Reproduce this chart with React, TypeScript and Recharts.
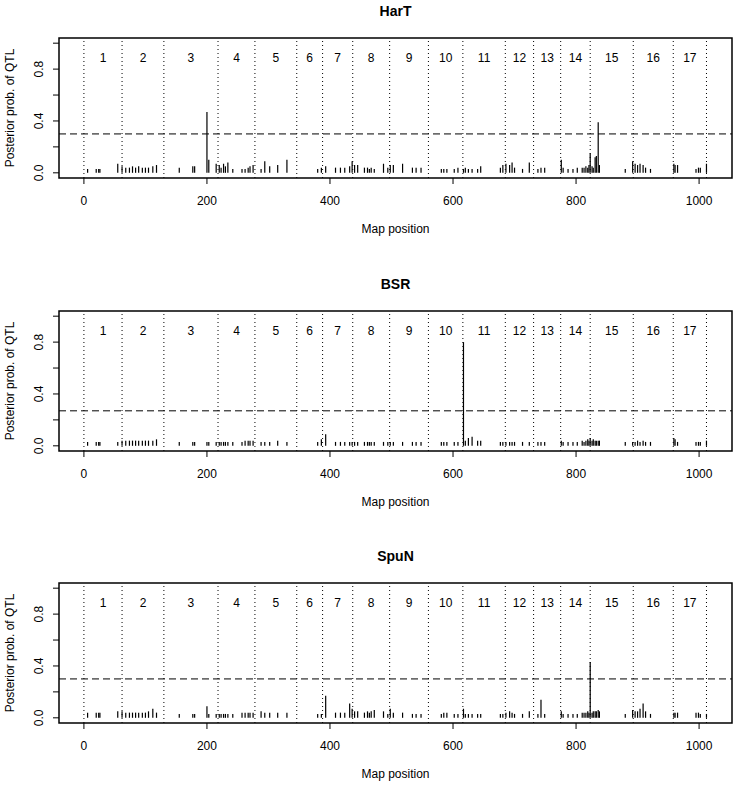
import React from "react";
import {
  ComposedChart,
  XAxis,
  YAxis,
  ReferenceLine,
  ReferenceArea,
  Scatter,
} from "recharts";

const FONT = "'Liberation Sans', Arial, Helvetica, sans-serif";

// chromosome boundaries on the map (cM) and their names
const chromBounds = [0, 62, 130, 218, 278, 346, 388, 437, 497, 560, 616, 685, 731, 775, 823, 893, 958, 1012];
const chromNames = ["1", "2", "3", "4", "5", "6", "7", "8", "9", "10", "11", "12", "13", "14", "15", "16", "17"];

// grid positions with a posterior value
const markerPos = [
  6, 20, 24, 26,
  55, 62, 68, 74, 79, 84, 89, 95, 100, 105, 112, 118,
  155, 177, 180, 200, 203,
  215, 220, 223, 227, 230, 234, 242, 257, 262, 267, 270, 275,
  288, 294, 302, 315, 330,
  380, 386,
  393, 409, 417, 424, 432, 436,
  440, 445, 456, 461, 464, 467, 472, 487, 494,
  498, 503, 518, 534, 540, 548,
  581, 585, 590, 602, 608,
  617, 620, 625, 631, 640, 645,
  677, 681, 686, 692, 696, 700, 713, 724,
  738, 743, 749,
  776, 779, 787, 795, 802, 810, 813, 816, 819, 821, 823, 826, 828, 831, 833, 836, 838,
  880, 892, 896, 900, 904, 909, 913, 921,
  959, 961, 965,
  995, 999, 1002, 1012,
];

const hartProb = [
  0.03, 0.03, 0.03, 0.03,
  0.07, 0.05, 0.04, 0.04, 0.05, 0.04, 0.05, 0.04, 0.04, 0.04, 0.05, 0.06,
  0.04, 0.05, 0.05, 0.47, 0.1,
  0.07, 0.06, 0.04, 0.07, 0.05, 0.08, 0.03, 0.03, 0.03, 0.04, 0.05, 0.06,
  0.03, 0.09, 0.05, 0.06, 0.1,
  0.03, 0.04,
  0.05, 0.04, 0.04, 0.04, 0.05, 0.09,
  0.06, 0.06, 0.04, 0.04, 0.03, 0.04, 0.03, 0.07, 0.04,
  0.06, 0.06, 0.07, 0.04, 0.04, 0.04,
  0.03, 0.03, 0.03, 0.03, 0.04,
  0.03, 0.04, 0.03, 0.03, 0.03, 0.05,
  0.04, 0.06, 0.07, 0.06, 0.08, 0.04, 0.03, 0.08,
  0.03, 0.04, 0.04,
  0.1, 0.04, 0.03, 0.03, 0.04, 0.04, 0.04, 0.05, 0.04, 0.06, 0.15, 0.05, 0.04, 0.12, 0.13, 0.39, 0.06,
  0.03, 0.09, 0.07, 0.06, 0.07, 0.06, 0.04, 0.03,
  0.07, 0.06, 0.06,
  0.03, 0.04, 0.04, 0.07,
];

const bsrProb = [
  0.03, 0.03, 0.03, 0.03,
  0.03, 0.04, 0.04, 0.04, 0.04, 0.04, 0.04, 0.04, 0.04, 0.04, 0.04, 0.05,
  0.03, 0.03, 0.03, 0.03, 0.03,
  0.03, 0.03, 0.03, 0.03, 0.03, 0.03, 0.03, 0.03, 0.04, 0.04, 0.04, 0.04,
  0.03, 0.03, 0.03, 0.04, 0.03,
  0.03, 0.05,
  0.09, 0.03, 0.03, 0.03, 0.03, 0.03,
  0.03, 0.03, 0.03, 0.03, 0.03, 0.03, 0.03, 0.03, 0.03,
  0.03, 0.03, 0.03, 0.03, 0.03, 0.03,
  0.03, 0.03, 0.03, 0.03, 0.03,
  0.8, 0.04, 0.06, 0.07, 0.04, 0.04,
  0.03, 0.03, 0.03, 0.03, 0.03, 0.03, 0.03, 0.03,
  0.03, 0.03, 0.03,
  0.04, 0.03, 0.03, 0.03, 0.03, 0.04, 0.03, 0.04, 0.05, 0.04, 0.06, 0.04, 0.05, 0.04, 0.04, 0.04, 0.04,
  0.03, 0.03, 0.03, 0.04, 0.03, 0.04, 0.03, 0.03,
  0.06, 0.05, 0.03,
  0.03, 0.03, 0.03, 0.04,
];

const spunProb = [
  0.04, 0.04, 0.04, 0.04,
  0.05, 0.05, 0.04, 0.04, 0.04, 0.04, 0.04, 0.04, 0.04, 0.05, 0.07, 0.04,
  0.03, 0.03, 0.03, 0.09, 0.03,
  0.03, 0.03, 0.03, 0.03, 0.03, 0.03, 0.03, 0.04, 0.04, 0.04, 0.04, 0.04,
  0.05, 0.04, 0.04, 0.04, 0.04,
  0.03, 0.03,
  0.17, 0.04, 0.04, 0.04, 0.11, 0.07,
  0.05, 0.05, 0.04, 0.05, 0.04, 0.05, 0.06, 0.05, 0.03,
  0.07, 0.04, 0.04, 0.03, 0.03, 0.03,
  0.03, 0.04, 0.04, 0.03, 0.03,
  0.07, 0.03, 0.03, 0.03, 0.03, 0.03,
  0.03, 0.03, 0.04, 0.05, 0.04, 0.03, 0.03, 0.05,
  0.03, 0.14, 0.03,
  0.05, 0.03, 0.03, 0.03, 0.03, 0.04, 0.04, 0.04, 0.05, 0.04, 0.43, 0.04, 0.05, 0.05, 0.05, 0.06, 0.05,
  0.03, 0.06, 0.05, 0.05, 0.07, 0.11, 0.05, 0.03,
  0.04, 0.04, 0.04,
  0.04, 0.04, 0.03, 0.03,
];

const xTicks = [0, 200, 400, 600, 800, 1000];
const yTicks = [0, 0.2, 0.4, 0.6, 0.8, 1];
const yTickLabels = [0, 0.4, 0.8];

const panels = [
  { title: "HarT", probs: hartProb, threshold: 0.3, plotTop: 38 },
  { title: "BSR", probs: bsrProb, threshold: 0.27, plotTop: 311 },
  { title: "SpuN", probs: spunProb, threshold: 0.3, plotTop: 583 },
];

const X_DOMAIN: [number, number] = [-40.5, 1053.5];
const Y_DOMAIN: [number, number] = [-0.04, 1.04];
const PLOT_H = 140;

const YTick = (props: any) => {
  const { x, y, payload } = props;
  if (!yTickLabels.includes(payload.value)) return <g />;
  return (
    <text
      x={x}
      y={y}
      transform={`rotate(-90 ${x} ${y})`}
      textAnchor="middle"
      fontSize={12}
      fontFamily={FONT}
      fill="#000"
    >
      {Number(payload.value).toFixed(1)}
    </text>
  );
};

const chromLabels = chromNames.map((name, i) => ({
  x: (chromBounds[i] + chromBounds[i + 1]) / 2,
  y: 0.89,
  name,
}));

function Panel({ probs, threshold, plotTop }: { probs: number[]; threshold: number; plotTop: number }) {
  return (
    <div style={{ position: "absolute", left: 0, top: plotTop - 38 }}>
      <ComposedChart width={738} height={240} margin={{ top: 38, right: 6, bottom: 22, left: 0 }}>
        <XAxis
          type="number"
          dataKey="x"
          domain={X_DOMAIN}
          ticks={xTicks}
          interval={0}
          allowDataOverflow
          axisLine={false}
          tickSize={6}
          tickMargin={12}
          height={40}
          tickLine={{ stroke: "#000" }}
          tick={{ fontSize: 12, fill: "#000", fontFamily: FONT }}
        />
        <YAxis
          type="number"
          dataKey="y"
          domain={Y_DOMAIN}
          ticks={yTicks}
          interval={0}
          allowDataOverflow
          axisLine={false}
          width={59}
          tickSize={6}
          tickMargin={10}
          tickLine={{ stroke: "#000" }}
          tick={<YTick />}
        />
        <ReferenceArea
          x1={X_DOMAIN[0]}
          x2={X_DOMAIN[1]}
          y1={Y_DOMAIN[0]}
          y2={Y_DOMAIN[1]}
          fill="none"
          fillOpacity={0}
          stroke="#000"
          strokeWidth={1.5}
          ifOverflow="visible"
        />
        {chromBounds.map((b) => (
          <ReferenceLine key={"c" + b} x={b} stroke="#000" strokeDasharray="1 3" strokeWidth={1} />
        ))}
        <ReferenceLine y={threshold} stroke="#000" strokeDasharray="7 4" strokeWidth={1} />
        {markerPos.map((p, i) => (
          <ReferenceLine
            key={"m" + i}
            segment={[
              { x: p, y: 0 },
              { x: p, y: probs[i] },
            ]}
            stroke="#000"
            strokeWidth={1.2}
            ifOverflow="visible"
          />
        ))}
        <Scatter
          data={chromLabels}
          isAnimationActive={false}
          shape={(p: any) => (
            <text
              x={p.cx}
              y={p.cy}
              dy="0.35em"
              textAnchor="middle"
              fontSize={12}
              fontFamily={FONT}
              fill="#000"
            >
              {p.payload.name}
            </text>
          )}
        />
      </ComposedChart>
    </div>
  );
}

export default function App() {
  return (
    <div style={{ position: "absolute", left: 0, top: 0, width: 738, height: 786, background: "#fff" }}>
      {panels.map((p) => (
        <Panel key={p.title} probs={p.probs} threshold={p.threshold} plotTop={p.plotTop} />
      ))}
      <svg
        width={738}
        height={786}
        style={{ position: "absolute", left: 0, top: 0, pointerEvents: "none" }}
      >
        {panels.map((p) => (
          <g key={p.title} fontFamily={FONT} fill="#000">
            <text x={395.5} y={p.plotTop - 22} textAnchor="middle" fontSize={14} fontWeight="bold">
              {p.title}
            </text>
            <text x={395.5} y={p.plotTop + PLOT_H + 55} textAnchor="middle" fontSize={12}>
              Map position
            </text>
            <text
              x={13.5}
              y={p.plotTop + PLOT_H / 2}
              transform={`rotate(-90 13.5 ${p.plotTop + PLOT_H / 2})`}
              textAnchor="middle"
              fontSize={12}
            >
              Posterior prob. of QTL
            </text>
          </g>
        ))}
      </svg>
    </div>
  );
}
